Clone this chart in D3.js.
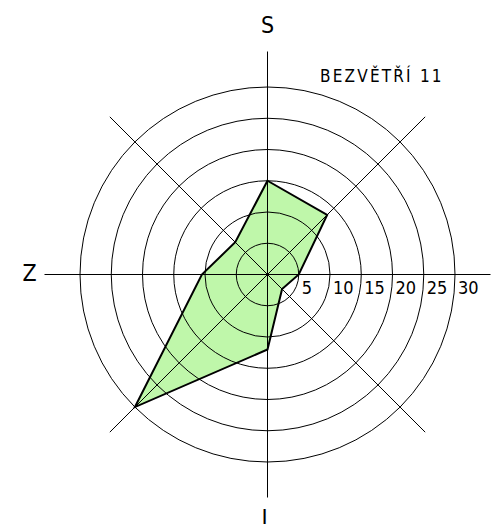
<!DOCTYPE html>
<html><head><meta charset="utf-8">
<script src="https://cdn.jsdelivr.net/npm/d3@7"></script>
<style>
html,body{margin:0;padding:0;background:#fff;}
svg{display:block;}
text{font-family:"DejaVu Sans Condensed","DejaVu Sans",sans-serif;fill:#000;}
</style></head>
<body>
<svg id="c" width="502" height="524"></svg>
<script>
// directions clockwise from north (S = sever)
const directions = ["S", "SV", "V", "JV", "J", "JZ", "Z", "SZ"];
const values = [15, 13.5, 5, 3.3, 12, 30, 10.5, 7.3];
const rings = [5, 10, 15, 20, 25, 30];
const ringLabels = ["5", "10", "15", "20", "25", "30"];
const calmLabel = "BEZVĚTŘÍ";
const calmValue = 11;
const axisLabels = [{t: "S", dir: 0}, {t: "Z", dir: 6}, {t: "J", dir: 4}];

const svg = d3.select("#c");
const cx = 267.5, cy = 274.5;
const r = d3.scaleLinear().domain([0, 30]).range([0, 187.5]);
const axisLen = 223;
const angle = d3.scaleLinear().domain([0, directions.length]).range([0, 2 * Math.PI]);

const g = svg.append("g").attr("transform", `translate(${cx},${cy})`);

const radial = d3.lineRadial()
  .angle((d, i) => angle(i))
  .radius(d => r(d))
  .curve(d3.curveLinearClosed);

// fill
g.append("path").attr("d", radial(values))
  .attr("fill", "#bff7aa").attr("stroke", "none");

// rings
g.selectAll("circle.ring").data(rings).enter().append("circle")
  .attr("r", d => r(d)).attr("fill", "none")
  .attr("stroke", "#000").attr("stroke-width", 1);

// axes
g.selectAll("line.ax").data(directions).enter().append("line")
  .attr("x1", 0).attr("y1", 0)
  .attr("x2", (d, i) => axisLen * Math.sin(angle(i)))
  .attr("y2", (d, i) => -axisLen * Math.cos(angle(i)))
  .attr("stroke", "#000").attr("stroke-width", 1);

// outline
g.append("path").attr("d", radial(values))
  .attr("fill", "none").attr("stroke", "#000").attr("stroke-width", 2)
  .attr("stroke-linejoin", "miter");

// ring labels
g.selectAll("text.rl").data(rings).enter().append("text")
  .attr("x", d => r(d) + 3).attr("y", 19)
  .attr("font-size", 18)
  .text((d, i) => ringLabels[i]);

// compass labels
const lbl = {S: [0, -242], Z: [-238, 6], J: [-3, 251]};
axisLabels.forEach(a => {
  g.append("text").attr("x", lbl[a.t][0]).attr("y", lbl[a.t][1])
    .attr("text-anchor", "middle").attr("font-size", 23)
    .attr("font-family", "DejaVu Sans")
    .text(a.t);
});

// calm label
svg.append("text").attr("x", 320).attr("y", 82)
  .attr("font-size", 17).attr("letter-spacing", 2.2)
  .text(calmLabel + "  " + calmValue);
</script>
</body></html>
